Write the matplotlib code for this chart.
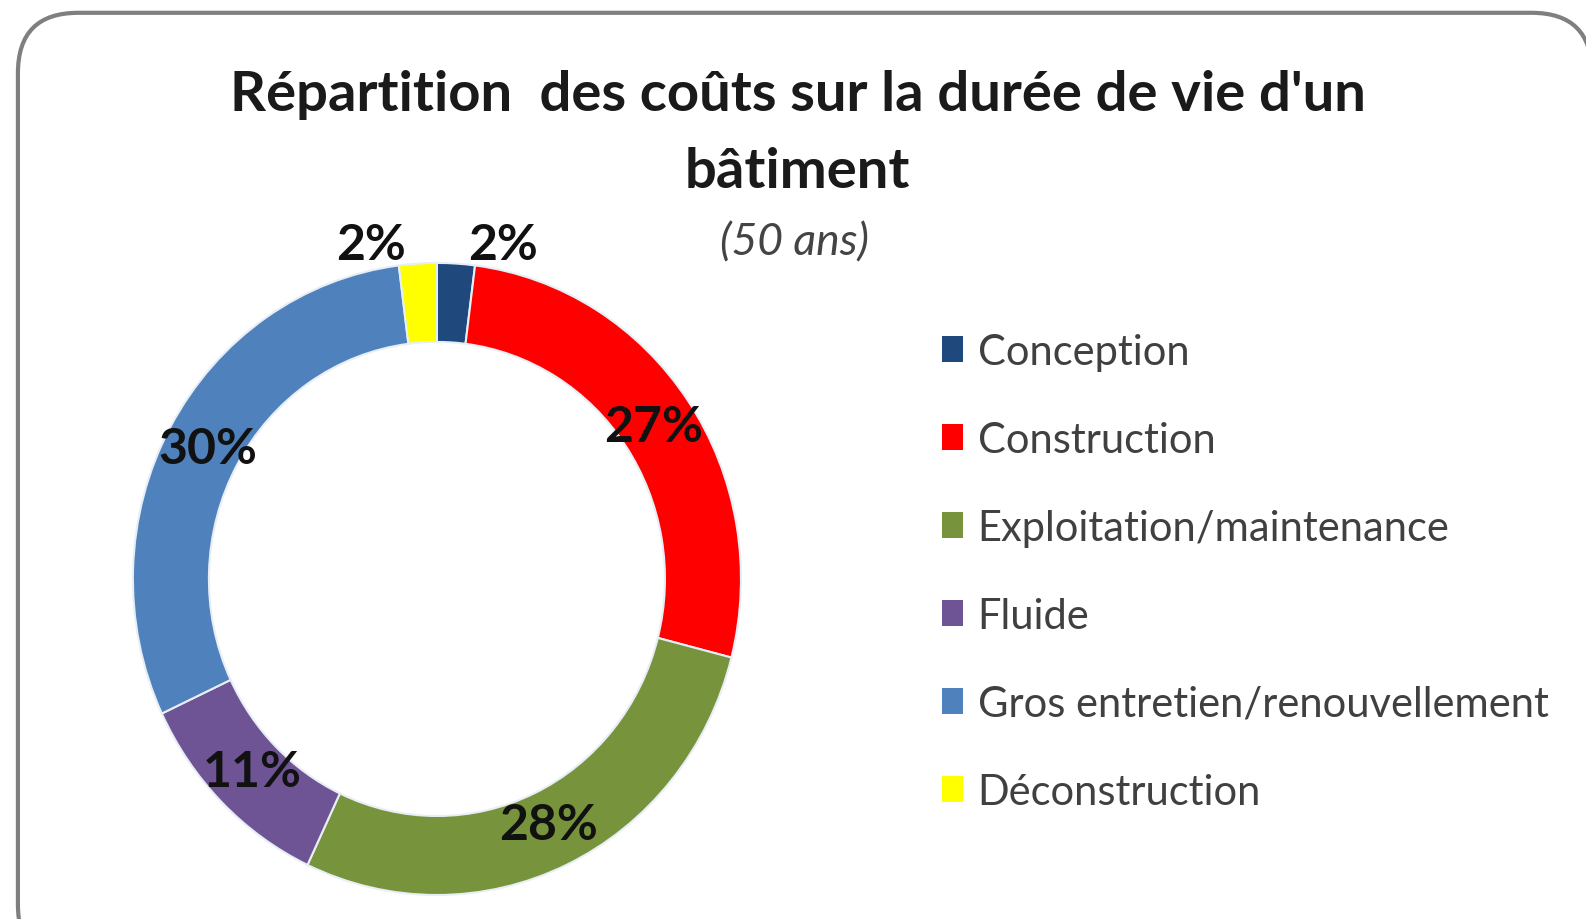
import matplotlib.pyplot as plt
import numpy as np
from matplotlib.patches import FancyBboxPatch, Patch

# Data
categories = ['Conception', 'Construction', 'Exploitation/maintenance', 'Fluide',
              'Gros entretien/renouvellement', 'Déconstruction']
shares = [2, 27, 28, 11, 30, 2]
colors = ['#1F497D', '#FF0000', '#77933C', '#6F5495', '#4F81BD', '#FFFF00']

plt.rcParams['font.family'] = ['Lato', 'DejaVu Sans']

fig = plt.figure(figsize=(15.86, 9.2), dpi=100)

# rounded frame around the chart
frame = FancyBboxPatch((0.0113, -0.05), 0.9924, 1.035, transform=fig.transFigure,
                       boxstyle='round,pad=0,rounding_size=0.038', fc='white',
                       ec='#7f7f7f', lw=3, mutation_aspect=1586 / 920, zorder=-1)
fig.patches.append(frame)

# Donut
ax = fig.add_axes([0.0838, 0.0261, 0.3834, 0.687])
ax.patch.set_visible(False)
wedges, _ = ax.pie(shares, colors=colors, startangle=90, counterclock=False,
                   radius=1, wedgeprops=dict(width=0.25, edgecolor='#e8eef5', linewidth=1.5))
ax.set_aspect('auto')
ax.set_xlim(-1, 1)
ax.set_ylim(-1, 1)

# Percentage labels
for w, v in zip(wedges, shares):
    mid = np.deg2rad((w.theta1 + w.theta2) / 2)
    if v < 5:
        r = 1.08
        shift = np.deg2rad(8) * np.sign(np.cos(mid))
        mid = mid - shift
    else:
        r = 0.86
    ax.text(r * np.cos(mid), r * np.sin(mid), f'{v}%', ha='center', va='center',
            fontsize=36, fontweight='bold', color='#111111')

# Title
fig.text(0.503, 0.897, "Répartition  des coûts sur la durée de vie d'un", ha='center', va='center',
         fontsize=40.5, fontweight='bold', color='#1a1a1a')
fig.text(0.503, 0.813, 'bâtiment', ha='center', va='center',
         fontsize=40.5, fontweight='bold', color='#1a1a1a')
fig.text(0.501, 0.736, '(50 ans)', ha='center', va='center',
         fontsize=32, fontstyle='italic', color='#444444')

# Legend
handles = [Patch(facecolor=c, edgecolor='none') for c in colors]
fig.legend(handles, categories, loc='upper left', bbox_to_anchor=(0.5705, 0.678),
           frameon=False, fontsize=30, labelcolor='#404040', handlelength=0.5,
           handleheight=0.6, handletextpad=0.35, labelspacing=1.2)

fig.savefig('out.png', dpi=100)
